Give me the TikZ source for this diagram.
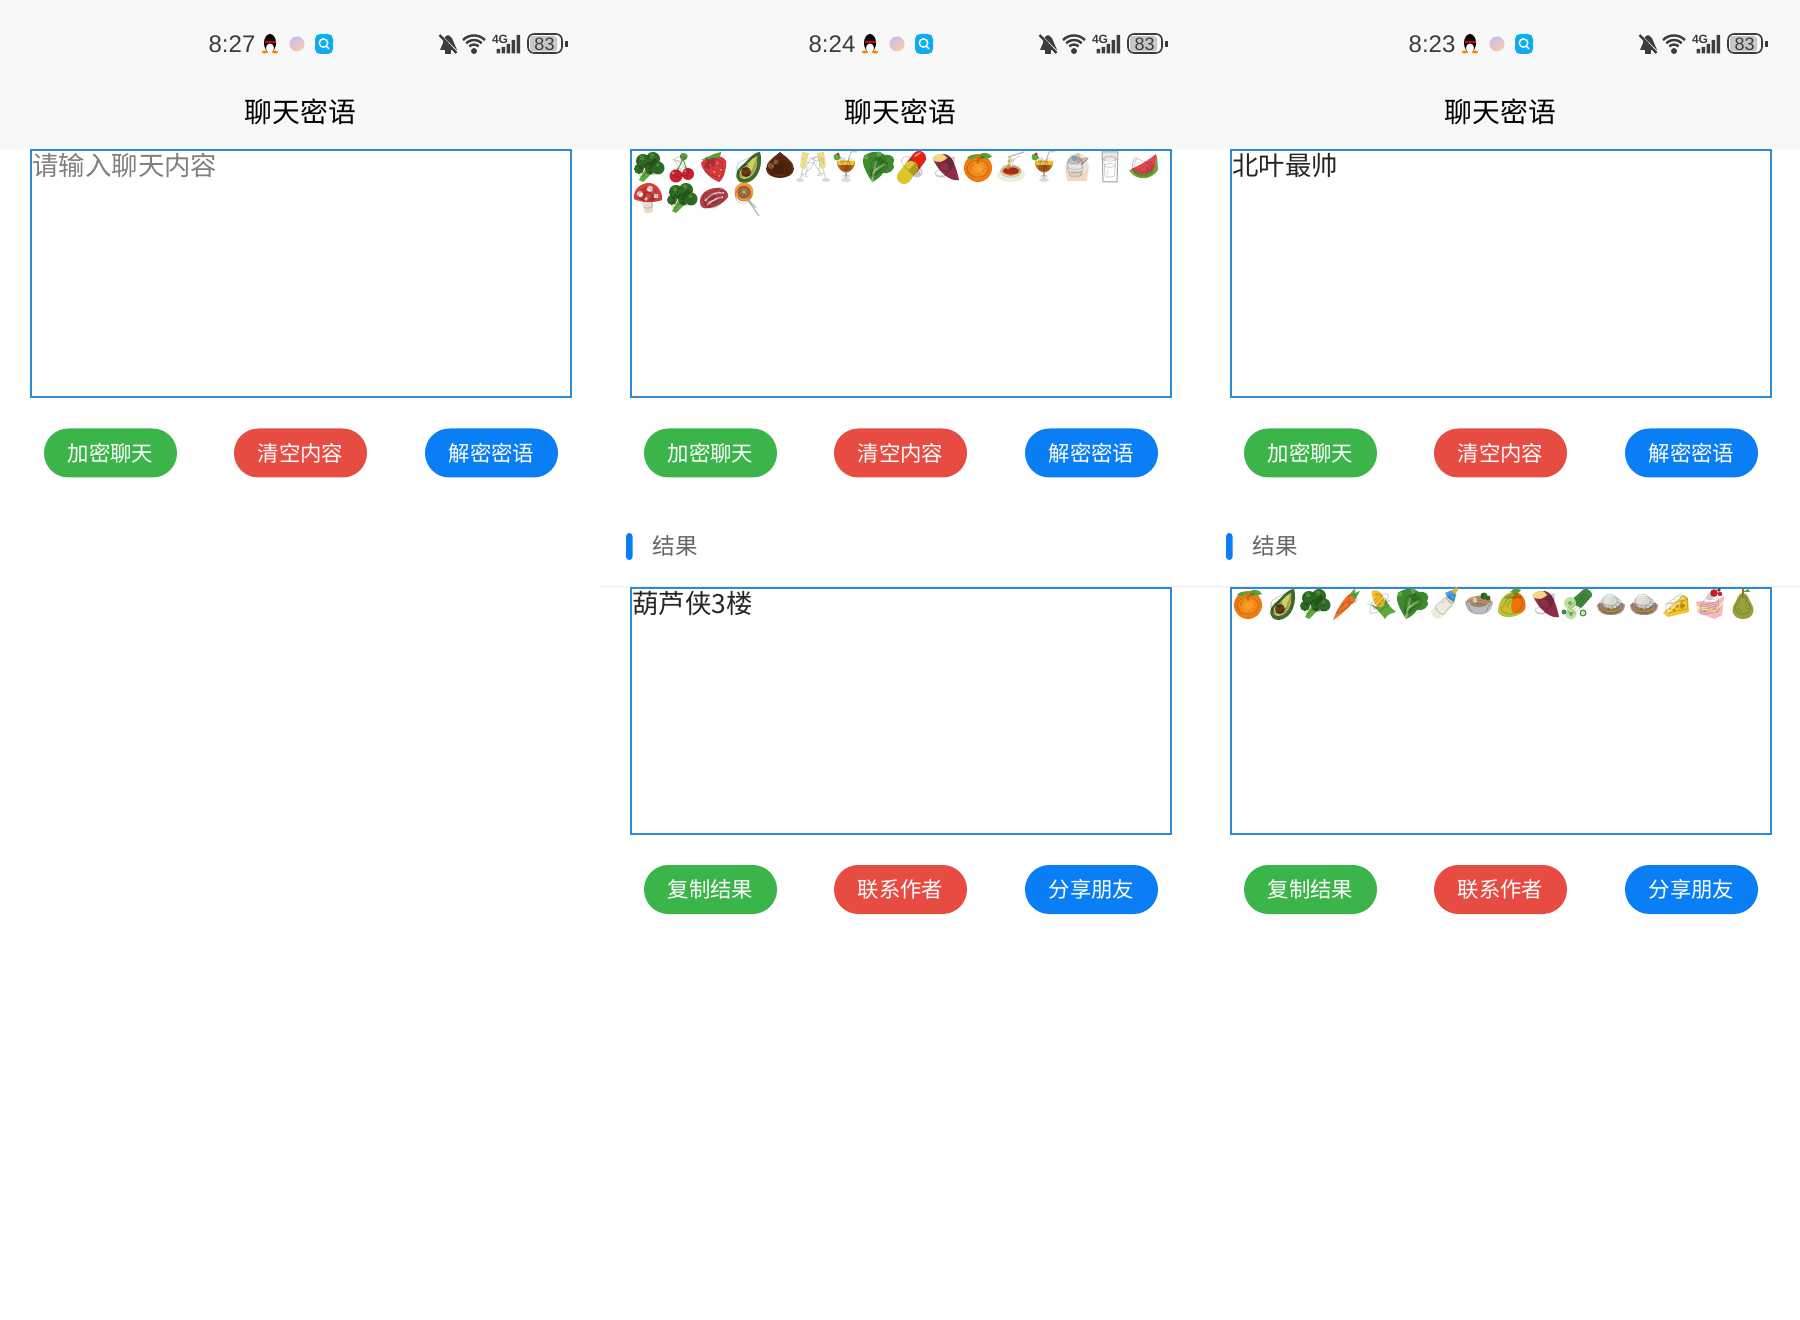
\documentclass[tikz,border=0pt]{standalone}
\usepackage{fontspec}
\setmainfont{Noto Sans CJK SC}
\newfontfamily\emojifont{Noto Emoji}
\newfontfamily\latinfont{Liberation Sans}
\definecolor{hdr}{HTML}{F8F8F8}
\definecolor{rule}{HTML}{EEEEEE}
\definecolor{boxc}{HTML}{2D8AD8}
\definecolor{sgreen}{HTML}{3BB54A}
\definecolor{sred}{HTML}{E74C42}
\definecolor{sblue}{HTML}{0A7EF5}
\definecolor{stat}{HTML}{3C3C3C}
\definecolor{ph}{HTML}{808080}
\definecolor{restext}{HTML}{666666}
\definecolor{BD}{HTML}{2F6B22}\definecolor{BL}{HTML}{4C8F36}\definecolor{BS}{HTML}{5FA83C}
\definecolor{LT}{HTML}{3E8A2E}
\definecolor{CR}{HTML}{C8202F}\definecolor{LG}{HTML}{5C9E3A}
\definecolor{SR}{HTML}{D83A3F}\definecolor{AV}{HTML}{3E6B28}\definecolor{AI}{HTML}{CFCF6A}\definecolor{AP}{HTML}{6B3A1E}
\definecolor{CH}{HTML}{5E2C10}\definecolor{CHL}{HTML}{A86A3A}
\definecolor{GL}{HTML}{D9D9D9}\definecolor{CP}{HTML}{EED98E}\definecolor{DR}{HTML}{B5651D}
\definecolor{PR}{HTML}{E2231A}\definecolor{PY}{HTML}{D9C72C}
\definecolor{SP}{HTML}{8E2F4A}\definecolor{SPI}{HTML}{F4D58A}
\definecolor{OR}{HTML}{EE7208}\definecolor{ORL}{HTML}{FBA530}
\definecolor{PL}{HTML}{EDEDE0}\definecolor{SA}{HTML}{C8321E}\definecolor{NO}{HTML}{E8C66A}
\definecolor{CU}{HTML}{F1D9C6}\definecolor{MK}{HTML}{E6E6E6}\definecolor{WM}{HTML}{E2474F}\definecolor{WR}{HTML}{6CA83C}
\definecolor{MR}{HTML}{D8403A}\definecolor{MS}{HTML}{EAD9C8}
\definecolor{ME}{HTML}{B5404A}\definecolor{MF}{HTML}{F0C6C6}
\definecolor{LO}{HTML}{E9A43A}
\definecolor{CA}{HTML}{F0742A}\definecolor{CO}{HTML}{F5C02C}
\definecolor{BT}{HTML}{EFEAE0}\definecolor{BB}{HTML}{45A5E0}\definecolor{SO}{HTML}{B8BCC0}
\definecolor{MG}{HTML}{EBB02A}\definecolor{MGG}{HTML}{B5C43A}
\definecolor{CC}{HTML}{3F8A3C}\definecolor{CCL}{HTML}{BFE29A}
\definecolor{RB}{HTML}{A88A78}\definecolor{RC}{HTML}{E0E0DC}
\definecolor{CZ}{HTML}{F3C52B}\definecolor{CK}{HTML}{F9B7C4}\definecolor{CKY}{HTML}{FBE6A2}
\definecolor{PE}{HTML}{98A03A}
\tikzset{
  btn/.style={rectangle,rounded corners=12.2pt,minimum width=66.5pt,minimum height=24.5pt,inner sep=0pt,text=white,font=\fontsize{10.7}{12}\selectfont},
  field/.style={draw=boxc,line width=1pt,fill=white},
  fieldtext/.style={anchor=west,inner sep=0pt,font=\fontsize{13.2}{15}\selectfont},
  titletext/.style={inner sep=0pt,text=black,font=\fontsize{13.9}{16}\selectfont},
  timetext/.style={inner sep=0pt,text=stat,font=\latinfont\fontsize{12}{14}\selectfont},
  glyph/.style={inner sep=0pt,text=black,text opacity=.22,font=\emojifont\fontsize{10.5}{12}\selectfont},
}
\newcount\emon
\newcommand\emo[4]{\begin{scope}[shift={(#1,#2)}]#3\global\advance\emon by 1 \node[glyph] (emoji\the\emon) {#4};\end{scope}}
\newcommand\Broc{\fill[BS](-9,13)--(-2,1)--(5,5)--(-5,15)--cycle;\fill[BD](-5,-6)circle(7)(5,-8)circle(7)(10,1)circle(6.5)(-9,2)circle(5)(3,1)circle(6);\fill[BL](-6,-9)circle(2.5)(4,-11)circle(2.5)(9,-2)circle(2);}
\newcommand\Cherry{\draw[LG,line width=.5pt](-4,4)--(2,-8)--(6,3);\fill[LG](1,-14)..controls(8,-14)and(9,-9)..(2,-6)..controls(-2,-8)and(-2,-12)..(1,-14);\fill[CR](-5,9)circle(6.5)(7,7)circle(6);\fill[white,opacity=.5](-8,6)circle(1.5)(4,4)circle(1.2);}
\newcommand\Straw{\fill[SR](-13,-4)..controls(-8,-12)and(8,-14)..(12,-6)..controls(13,4)and(8,14)..(5,15)..controls(-3,12)and(-12,4)..(-13,-4);\fill[LG](-13,-7)--(0,-13)--(7,-15)--(6,-10)--(-4,-8)--cycle;\fill[white,opacity=.6](-4,-2)circle(1)(3,-4)circle(1)(7,3)circle(1)(0,5)circle(1)(5,9)circle(1);}
\newcommand\Avo{\fill[AV](13,-15)..controls(16,-5)and(13,15)..(-3,16)..controls(-12,15)and(-13,7)..(-7,0)..controls(0,-5)and(6,-15)..(13,-15);\fill[AI](10,-11)..controls(11,-3)and(9,11)..(-3,12)..controls(-9,11)and(-9,6)..(-5,2)..controls(1,-3)and(6,-10)..(10,-11);\fill[AP](-1,5)circle(5);}
\newcommand\Chest{\fill[CH](0,-15)..controls(6,-10)and(14,-5)..(14,2)..controls(13,14)and(-13,14)..(-14,2)..controls(-14,-5)and(-6,-10)..(0,-15);\fill[CHL](-9,-1)circle(3)(-4,-5)circle(2.5);}
\newcommand\Glasses{\fill[CP](-11,-15)--(-4,-14)--(-8,2)--(-13,0)--cycle(11,-15)--(4,-14)--(8,2)--(13,0)--cycle;\draw[GL,line width=.6pt](-10,1)--(-13,13)(10,1)--(13,13);\fill[GL](-13,13)ellipse(4 and 2)(13,13)ellipse(4 and 2);}
\newcommand\Cock{\fill[DR](-9,-6)--(9,-6)..controls(9,2)and(4,5)..(0,5)..controls(-4,5)and(-9,2)..(-9,-6);\fill[CO](-9,-6)--(9,-6)--(8,-2)--(-8,-2)--cycle;\draw[GL,line width=.7pt](0,5)--(0,13);\fill[GL](0,13)ellipse(5 and 2);\draw[SO,line width=.5pt](2,-6)--(5,-15)--(11,-15);\fill[BS](-9,-10)circle(3.5);\fill[CR](-8,-13)circle(1.5);}
\newcommand\Lettuce{\fill[LT](-7,15)..controls(-15,2)and(-20,-8)..(-12,-13)..controls(-4,-17)and(2,-15)..(6,-12)..controls(14,-13)and(17,-8)..(14,-3)..controls(18,3)and(8,8)..(4,6)..controls(2,9)and(-2,13)..(-7,15);\draw[BS!70,line width=1pt](-7,14)--(-3,-6)(-5,4)--(6,-3);\fill[BS](-13,-10)circle(2.5)(0,-13)circle(2.5);}
\newcommand\Pill{\draw[PR,line width=7pt,line cap=round](0,0)--(7,-9);\draw[PY,line width=7pt,line cap=round](-8,10)--(-1,1);\draw[white,opacity=.5,line width=.8pt,line cap=round](3,-11)--(8,-14);}
\newcommand\Sweet{\fill[SP](-12,-8)..controls(-4,-16)and(4,-14)..(8,-6)..controls(11,0)and(13,8)..(14,13)..controls(6,15)and(-6,6)..(-12,-8);\fill[SPI](-13,-8)..controls(-9,-15)and(-1,-15)..(2,-9)..controls(0,-5)and(-8,-3)..(-13,-8);}
\newcommand\Orange{\shade[inner color=ORL,outer color=OR](0,1)circle(14);\fill[LG](0,-11)..controls(4,-16)and(11,-15)..(14,-10)..controls(9,-8)and(4,-8)..(0,-11)(0,-11)..controls(-3,-13)and(-8,-13)..(-11,-9)..controls(-7,-7)and(-3,-8)..(0,-11);}
\newcommand\Spag{\fill[PL](0,8)ellipse(14 and 7);\fill[NO](0,4)ellipse(10 and 5);\fill[SA](0,4)ellipse(8 and 3.5);\draw[NO,line width=1pt](-3,2)--(-1,-11);\draw[SO,line width=.6pt](-3,-10)--(13,-15);}
\newcommand\Shave{\fill[CU](-12,-2)--(12,-2)--(10,14)--(-10,14)--cycle;\fill[MK](0,-3)ellipse(11 and 11);\fill[BB,opacity=.5](-3,-9)circle(3);\fill[CK](3,-7)circle(3);\fill[MGG,opacity=.6](1,-12)circle(2);\draw[RB,line width=.7pt](4,-2)--(11,-9);\fill[RB!60,opacity=.5](-6,4)rectangle(6,9);}
\newcommand\Milk{\fill[MK](-8,-15)--(8,-15)--(7,15)--(-7,15)--cycle;\fill[white](-7,-7)--(7,-7)--(6.5,14)--(-6.5,14)--cycle;\draw[black!35,line width=.5pt](-8,-15)--(8,-15)--(7,15)--(-7,15)--cycle;}
\newcommand\Water{\fill[WR](-14,3)..controls(-8,14)and(8,14)..(15,3)--(14,-12)..controls(10,-5)and(0,2)..(-14,3);\fill[WM](-12,2)..controls(-6,9)and(8,8)..(12,0)--(13,-13)..controls(7,-8)and(-4,-1)..(-12,2);\fill[black!70](-3,2)circle(.9)(4,1)circle(.9)(8,-5)circle(.9);}
\newcommand\Mush{\fill[MS](-4,0)--(4,0)--(5,13)..controls(3,16)and(-3,16)..(-4,13)--cycle;\fill[MR](-14,1)..controls(-15,-10)and(-6,-15)..(1,-15)..controls(9,-15)and(15,-6)..(14,2)..controls(7,5)and(-7,5)..(-14,1);\fill[white!90!MR](-8,-4)circle(3)(2,-9)circle(3)(8,-2)circle(2.5)(-2,1)circle(1.8);}
\newcommand\Meat{\fill[ME](-14,3)..controls(-14,-6)and(-3,-11)..(5,-10)..controls(12,-9)and(15,-5)..(14,-1)..controls(10,6)and(-5,12)..(-11,10)..controls(-13,9)and(-14,7)..(-14,3);\draw[MF,line width=.8pt](-9,3)..controls(-3,-5)and(4,-6)..(10,-5)(-7,7)..controls(-1,1)and(5,0)..(9,-1);}
\newcommand\Lolly{\draw[SO,line width=.6pt](2,2)--(13,18);\fill[LO](-2,-6)circle(9.5);\fill[CR!80](-2,-6)circle(6.5);\fill[BS](-2,-6)circle(3.8);\fill[CO](-2,-6)circle(1.6);}
\newcommand\Carrot{\fill[CA](-14,16)..controls(-10,5)and(-2,-8)..(3,-10)..controls(7,-8)and(9,-5)..(8,-3)..controls(2,3)and(-7,12)..(-14,16);\fill[BS](3,-10)--(8,-16)--(8,-11)--(13,-13)--(8,-4)--cycle;}
\newcommand\Corn{\fill[CO](-8,-13)..controls(-2,-16)and(4,-10)..(6,2)--(3,8)..controls(-3,4)and(-9,-5)..(-8,-13);\fill[BS](-13,-1)..controls(-6,2)and(-1,7)..(5,15)..controls(7,10)and(12,9)..(16,8)..controls(10,3)and(8,1)..(5,-6)..controls(5,5)and(0,5)..(-13,-1);}
\newcommand\Bottle{\fill[BT](-15,7)--(1,-9)--(9,-1)--(-5,14)..controls(-9,17)and(-16,12)..(-15,7);\fill[BB](-1,-11)--(6,-14)--(10,-9)--(8,-2)--(2,-6)--cycle;\fill[MG](5,-13)--(11,-17)--(12,-14)--(9,-10)--cycle;}
\newcommand\Soup{\fill[SO](-14,-3)..controls(-13,9)and(-6,10)..(0,10)..controls(6,10)and(13,9)..(14,-3)--cycle;\fill[CHL!70](0,-3)ellipse(12 and 5);\fill[BD](5,-8)circle(3.5)(9,-6)circle(2.5);\fill[CU](-4,-4)circle(2.5);}
\newcommand\Mango{\fill[MGG](-14,8)..controls(-14,-6)and(-4,-13)..(3,-12)..controls(11,-11)and(15,-2)..(13,5)..controls(10,13)and(-10,17)..(-14,8);\fill[OR](3,-12)..controls(11,-11)and(15,-2)..(13,5)..controls(10,10)and(4,10)..(0,8)..controls(-2,0)and(0,-6)..(3,-12);\fill[MG,opacity=.8](-8,4)circle(4);\fill[LG](-2,-12)--(3,-16)--(9,-14)--(5,-10)--cycle;}
\newcommand\Cucum{\fill[CC](-9,-2)--(6,-15)..controls(11,-16)and(15,-11)..(14,-8)--(3,4)--cycle;\fill[CCL](-8,-1)circle(6)(-7,10)circle(5.5);\fill[CC](5,9)circle(3.5)(-14,8)circle(2.5);\fill[CCL!70](5,9)circle(2.2);\fill[CC!70](-8,-1)circle(2)(-7,10)circle(2);}
\newcommand\Curry{\fill[RB](-14,1)..controls(-13,10)and(-6,11)..(0,11)..controls(6,11)and(13,10)..(14,1)..controls(10,-4)and(-10,-4)..(-14,1);\fill[RC](0,-2)ellipse(9.5 and 6.5);\fill[MG!80!black](-8,5)rectangle(8,7);}
\newcommand\Cheese{\fill[CZ](-14,9)--(6,-9)--(11,-6)--(12,8)--(-9,13)--cycle;\fill[MG!80!black](5,2)ellipse(2 and 3)(-3,6)circle(1.5);\fill[white,opacity=.5](-12,9)--(6,-7)--(7,-5)--(-10,10)--cycle;}
\newcommand\Cake{\fill[CK](-14,-2)--(14,-8)--(12,11)--(5,15)--(-12,9)--cycle;\fill[CKY](-13,2)--(5,5)--(13,-3)--(13,0)--(5,8)--(-13,5)--cycle;\fill[white](-14,-3)--(14,-9)--(6,-2)--cycle;\fill[CR](4,-11)circle(3.8)(10,-10)circle(2.2);\fill[AP](9,-14)circle(1.8);}
\newcommand\Pear{\fill[PE](0,-11)..controls(5,-11)and(6,-4)..(8,-1)..controls(13,6)and(10,15)..(0,15)..controls(-10,15)and(-13,6)..(-8,-1)..controls(-6,-4)and(-5,-11)..(0,-11);\fill[CHL](-1,-16)rectangle(.5,-10);\fill[LG](0,-12)--(5,-15)--(7,-12)--cycle;}
\newcommand\topbar[2]{%
  \begin{scope}[shift={(#1,0)}]
  \node[timetext] (time#1) at (232,44) {#2};
  % penguin
  \fill[black] (270,43) ellipse (6 and 9);
  \fill[white] (270,48) ellipse (4 and 4.5);
  \fill[red!85!black] (264.5,41.5) rectangle (275.5,43.5);
  \fill[orange] (265,52) ellipse (3 and 1.5) (275,52) ellipse (3 and 1.5);
  % app dot
  \shade[left color=CK!50!blue!40,right color=orange!40,shading angle=30] (297,44) circle (7.5);
  % search app
  \fill[rounded corners=2.5pt,fill={rgb,255:red,16;green,172;blue,240}] (315,34) rectangle (333,54);
  \draw[white,line width=.7pt] (323.5,43) circle (4.2) (326.5,46.5) -- (329,49);
  % bell
  \fill[stat] (440,50) -- (443,43) .. controls (443,37) and (447,34.5) .. (449,35.5) .. controls (452,37) and (453,40) .. (454,43) -- (457,50) -- cycle;
  \fill[stat] (445,50) rectangle (451,54);
  \draw[hdr,line width=1.2pt] (442,37) -- (457,52);
  \draw[stat,line width=1.2pt] (439.5,35) -- (456.5,53);
  % wifi
  \fill[stat] (474,51) circle (3);
  \draw[stat,line width=1.2pt] (469.4,46.4) arc (225:315:6.5);
  \draw[stat,line width=1.2pt] (466.2,43.2) arc (225:315:11);
  \draw[stat,line width=1.2pt] (463,40) arc (225:315:15.5);
  % 4G + signal
  \node[inner sep=0pt,text=stat,font=\latinfont\bfseries\fontsize{6}{7}\selectfont] (net#1) at (500,39.5) {4G};
  \fill[stat] (496.5,49) rectangle (500,53.5) (501.5,47) rectangle (505,53.5) (506.5,44) rectangle (510,53.5) (511.5,40) rectangle (515,53.5) (516.5,35) rectangle (520,53.5);
  % battery
  \fill[black!22,rounded corners=1.5pt] (530,36) rectangle (557,51.5);
  \draw[stat,line width=.8pt,rounded corners=3pt] (528,34) rectangle (562,53);
  \fill[stat] (565,41) rectangle (567.5,47);
  \node[inner sep=0pt,text=stat,font=\latinfont\fontsize{9}{10}\selectfont] (batt#1) at (544.5,44) {83};
  \node[titletext] (title#1) at (300.5,112) {聊天密语};
  \end{scope}}
\newcommand\buttons[5]{%
  \begin{scope}[shift={(#1,#2)}]
  \node[btn,fill=sgreen] (a#1#2) at (110.5,0) {#3};
  \node[btn,fill=sred] (b#1#2) at (300.5,0) {#4};
  \node[btn,fill=sblue] (c#1#2) at (491.5,0) {#5};
  \end{scope}}
\newcommand\result[1]{%
  \begin{scope}[shift={(#1,0)}]
  \fill[sblue,rounded corners=1.6pt] (26,533) rectangle (32.5,560);
  \node[inner sep=0pt,anchor=west,text=restext,font=\fontsize{11.3}{13}\selectfont] (res#1) at (52,546) {结果};
  \end{scope}}
\begin{document}
\begin{tikzpicture}[x=.5pt,y=-.5pt]
\useasboundingbox (0,0) rectangle (1800,1320);
\fill[white] (0,0) rectangle (1800,1320);
\fill[hdr] (0,0) rectangle (1800,149);
\draw[rule,line width=.6pt] (600,586.5) -- (1800,586.5);
\topbar{0}{8:27}\topbar{600}{8:24}\topbar{1200}{8:23}
% panel 1
\draw[field] (30.5,150) rectangle (570.5,397);
\node[fieldtext,text=ph] (input1) at (32,165.5) {请输入聊天内容};
\buttons{0}{453}{加密聊天}{清空内容}{解密密语}
% panel 2
\draw[field] (630.5,150) rectangle (1170.5,397);
\buttons{600}{453}{加密聊天}{清空内容}{解密密语}
\result{600}
\draw[field] (630.5,588) rectangle (1170.5,834);
\node[fieldtext,text=black!85] (output2) at (632,604) {葫芦侠3楼};
\buttons{600}{889.5}{复制结果}{联系作者}{分享朋友}
% panel 3
\draw[field] (1230.5,150) rectangle (1770.5,397);
\node[fieldtext,text=black!85] (input3) at (1232,166) {北叶最帅};
\buttons{1200}{453}{加密聊天}{清空内容}{解密密语}
\result{1200}
\draw[field] (1230.5,588) rectangle (1770.5,834);
\buttons{1200}{889.5}{复制结果}{联系作者}{分享朋友}
% emoji panel 2
\emo{648}{167}{\Broc}{🥦}
\emo{681}{167}{\Cherry}{🍒}
\emo{714}{167}{\Straw}{🍓}
\emo{747}{167}{\Avo}{🥑}
\emo{780}{167}{\Chest}{🌰}
\emo{813}{167}{\Glasses}{🥂}
\emo{846}{167}{\Cock}{🍹}
\emo{879}{167}{\Lettuce}{🥬}
\emo{912}{167}{\Pill}{💊}
\emo{945}{167}{\Sweet}{🍠}
\emo{978}{167}{\Orange}{🍊}
\emo{1011}{167}{\Spag}{🍝}
\emo{1044}{167}{\Cock}{🍹}
\emo{1077}{167}{\Shave}{🍧}
\emo{1110}{167}{\Milk}{🥛}
\emo{1143}{167}{\Water}{🍉}
\emo{648}{198}{\Mush}{🍄}
\emo{681}{198}{\Broc}{🥦}
\emo{714}{198}{\Meat}{🥩}
\emo{746}{198}{\Lolly}{🍭}
% emoji panel 3
\emo{1248}{604}{\Orange}{🍊}
\emo{1281}{604}{\Avo}{🥑}
\emo{1314}{604}{\Broc}{🥦}
\emo{1347}{604}{\Carrot}{🥕}
\emo{1380}{604}{\Corn}{🌽}
\emo{1413}{604}{\Lettuce}{🥬}
\emo{1446}{604}{\Bottle}{🍼}
\emo{1479}{604}{\Soup}{🍲}
\emo{1512}{604}{\Mango}{🥭}
\emo{1545}{604}{\Sweet}{🍠}
\emo{1578}{604}{\Cucum}{🥒}
\emo{1611}{604}{\Curry}{🍛}
\emo{1644}{604}{\Curry}{🍛}
\emo{1677}{604}{\Cheese}{🧀}
\emo{1710}{604}{\Cake}{🍰}
\emo{1743}{604}{\Pear}{🍐}
\end{tikzpicture}
\end{document}
